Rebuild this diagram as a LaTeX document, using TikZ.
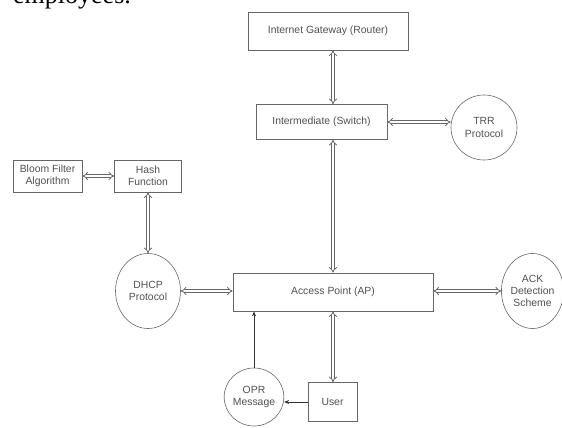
\documentclass[tikz,border=0pt]{standalone}
\usepackage{fontspec}
\setmainfont{Liberation Sans}
\newfontfamily\serifword{Liberation Serif}
\usetikzlibrary{arrows.meta,shapes.geometric}
\definecolor{lc}{HTML}{666666}
\definecolor{tc}{HTML}{505050}
\tikzset{
  x=1pt, y=-1pt,
  box/.style={draw=lc, line width=0.7pt, rectangle, inner sep=1pt, align=center, text=tc, font=\fontsize{10.4}{12.2}\selectfont},
  circ/.style={draw=lc, line width=0.6pt, ellipse, inner sep=0pt, align=center, text=tc, font=\fontsize{10.4}{12.2}\selectfont},
  dlink/.style={draw=lc, line width=0.8pt, double=white, double distance=2pt, {Implies}-{Implies}},
  slink/.style={draw=black!80, line width=0.7pt, -{Stealth[length=5pt,width=4pt]}},
}
\begin{document}
\begin{tikzpicture}
\useasboundingbox (0,0) rectangle (562,428);
\begin{scope}
\clip (0,0) rectangle (562,428);
\node[anchor=base west, inner sep=0pt, font=\serifword\fontsize{26}{28}\selectfont] (emp) at (13,4) {employees.};
\end{scope}
\node[box, minimum width=160pt, minimum height=38pt] (router) at (328,31) {Internet Gateway (Router)};
\node[box, minimum width=131pt, minimum height=35pt] (switch) at (321.5,122) {Intermediate (Switch)};
\node[circ, minimum width=66pt, minimum height=65pt] (trr) at (484,127.5) {TRR\\Protocol};
\node[box, minimum width=69pt, minimum height=32pt] (bloom) at (47.5,176) {Bloom Filter\\Algorithm};
\node[box, minimum width=67pt, minimum height=32pt] (hash) at (148,176) {Hash\\Function};
\node[circ, minimum width=65pt, minimum height=75pt] (dhcp) at (148,291) {DHCP\\Protocol};
\node[box, minimum width=200pt, minimum height=38pt] (ap) at (333,292) {Access Point (AP)};
\node[circ, minimum width=59pt, minimum height=75pt] (ack) at (532.5,291) {ACK\\Detection\\Scheme};
\node[box, minimum width=49pt, minimum height=39pt] (user) at (332.5,402) {User};
\node[circ, minimum width=56pt, minimum height=58pt] (opr) at (254,397) {OPR\\Message};

\draw[dlink] (router.south -| ap.north) -- (switch.north -| ap.north);
\draw[dlink] (switch.south -| ap.north) -- (ap.north);
\draw[dlink] (switch.east) -- (trr.west |- switch.east);
\draw[dlink] (bloom.east) -- (hash.west);
\draw[dlink] (hash.south) -- (dhcp.north);
\draw[dlink] (dhcp.east) -- (ap.west |- dhcp.east);
\draw[dlink] (ap.east |- ack.west) -- (ack.west);
\draw[dlink] (ap.south) -- (user.north -| ap.south);
\draw[slink] (user.west) -- (opr.east |- user.west);
\draw[slink] (opr.north) -- (ap.south -| opr.north);
\end{tikzpicture}
\end{document}
